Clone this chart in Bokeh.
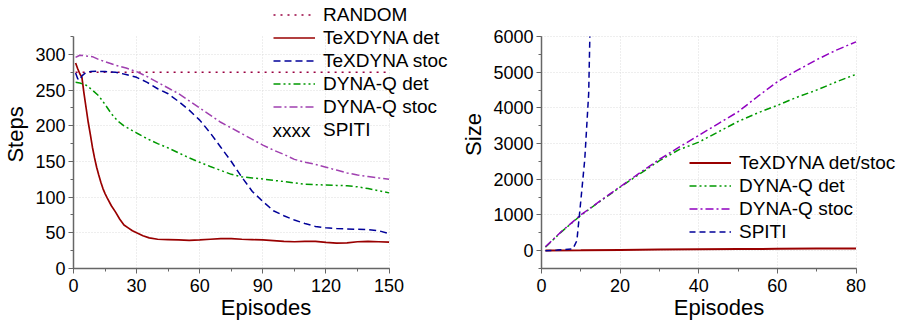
from bokeh.plotting import figure
from bokeh.layouts import row
from bokeh.models import Legend, LegendItem, Label, SingleIntervalTicker, Range1d
from bokeh.embed import file_html
from bokeh.resources import INLINE

FONT = "Liberation Sans"

# ---------------- Left chart: Steps vs Episodes ----------------
random_x = [1, 150]
random_y = [275, 275]

texdyna_det_x = [1, 2, 3, 4, 5, 6, 7, 8, 9, 10, 11, 12, 13, 14, 15, 16, 18, 20, 22, 24, 26, 28, 30, 33, 36,
                 40, 45, 50, 55, 60, 65, 70, 75, 80, 85, 90, 95, 100, 105, 110, 115, 120, 125, 130, 135,
                 140, 145, 150]
texdyna_det_y = [288, 280, 273, 268, 245, 225, 205, 188, 170, 155, 142, 131, 121, 112, 105, 99, 88, 79, 69,
                 61, 57, 53, 50, 46, 43, 41, 40.5, 40, 39.5, 40, 41, 42, 42, 41, 40.5, 40, 39, 38, 37.5, 38,
                 38, 36.5, 35.5, 36, 37.5, 38, 37.5, 37]

texdyna_stoc_x = [1, 2, 3, 4, 6, 8, 11, 15, 20, 25, 30, 35, 40, 45, 50, 55, 60, 65, 70, 75, 80, 85, 90, 95,
                  100, 105, 110, 115, 120, 125, 130, 135, 140, 145, 150]
texdyna_stoc_y = [274, 266, 264, 270, 275, 276, 276.5, 276, 275, 272, 268, 261, 252, 245, 234, 222, 208, 190,
                  170, 150, 128, 108, 94, 81, 74, 68, 63, 59, 57, 56, 55.5, 55, 54.5, 53, 49]

dynaq_det_x = [1, 3, 6, 9, 12, 15, 18, 21, 24, 27, 30, 35, 40, 45, 50, 55, 60, 65, 70, 75, 80, 85, 90, 95,
               100, 105, 110, 115, 120, 125, 130, 135, 140, 145, 150]
dynaq_det_y = [261, 260, 257, 250, 242, 230, 217, 207, 200, 195, 190, 182, 175, 169, 162, 155, 149, 143,
               137.5, 132, 128.5, 127, 125.5, 123.5, 122, 120, 118, 117.5, 117, 116.5, 116, 114.5, 112, 109, 106]

dynaq_stoc_x = [1, 3, 6, 9, 12, 15, 20, 25, 30, 35, 40, 45, 50, 55, 60, 65, 70, 75, 80, 85, 90, 95, 100,
                105, 110, 115, 120, 125, 130, 135, 140, 145, 150]
dynaq_stoc_y = [296, 299, 298, 297, 293, 290, 285, 281, 276, 269, 261, 253, 245, 235, 225, 215, 205, 197,
                189, 181, 173, 166, 160, 153, 149, 146, 142, 138, 134, 131, 129, 127, 125]

# ---------------- Right chart: Size vs Episodes ----------------
tex_size_x = [1, 10, 20, 30, 40, 50, 60, 70, 80]
tex_size_y = [2, 10, 20, 30, 38, 45, 52, 58, 63]

dq_det_size_x = [1, 5, 10, 15, 20, 25, 30, 35, 40, 45, 50, 55, 60, 65, 70, 75, 80]
dq_det_size_y = [100, 520, 990, 1390, 1780, 2150, 2520, 2830, 3040, 3330, 3620, 3860, 4070, 4300, 4500,
                 4730, 4940]

dq_stoc_size_x = [1, 5, 10, 15, 20, 25, 30, 35, 40, 45, 50, 55, 60, 65, 70, 75, 80]
dq_stoc_size_y = [110, 530, 1000, 1400, 1790, 2180, 2560, 2900, 3230, 3560, 3890, 4320, 4730, 5050, 5350,
                  5620, 5850]

spiti_size_x = [1, 4, 8, 9, 10, 11, 12, 12.3]
spiti_size_y = [0, 15, 50, 280, 1400, 2550, 4400, 6000]

RED = "#990000"
BLUE = "#000099"
GREEN = "#009900"
PURPLE_L = "#A040B0"
PURPLE_R = "#9000C0"
RAND = "#990040"


def style(p, xint, yint, xlabel, ylabel, xb, yb):
    for ax, interval, lab, b in ((p.xaxis[0], xint, xlabel, xb), (p.yaxis[0], yint, ylabel, yb)):
        ax.ticker = SingleIntervalTicker(interval=interval, num_minor_ticks=2)
        ax.bounds = b
        ax.axis_label = lab
        ax.axis_label_text_font = FONT
        ax.axis_label_text_font_size = "22px"
        ax.axis_label_text_font_style = "normal"
        ax.axis_label_text_color = "black"
        ax.major_label_text_font = FONT
        ax.major_label_text_font_size = "18px"
        ax.major_label_text_color = "black"
        ax.axis_line_color = "#666666"
        ax.axis_line_width = 1.5
        ax.major_tick_line_color = "#666666"
        ax.minor_tick_line_color = "#666666"
        ax.major_tick_in = 0
        ax.major_tick_out = 5
        ax.minor_tick_in = 0
        ax.minor_tick_out = 3
    p.xaxis.major_label_standoff = 5
    p.xaxis.axis_label_standoff = 0
    p.yaxis.major_label_standoff = 3
    p.yaxis.axis_label_standoff = 4
    for g, b, cb in ((p.xgrid[0], xb, yb), (p.ygrid[0], yb, xb)):
        g.grid_line_color = "#dcdcdc"
        g.grid_line_dash = "1 2"
        g.grid_line_width = 1
        g.bounds = b
        try:
            g.cross_bounds = cb
        except AttributeError:
            pass
    p.outline_line_color = None


def leg(items, vx, vy):
    return Legend(items=items, location=(vx, vy), border_line_color=None, background_fill_alpha=0,
                  padding=0, margin=0, spacing=0, label_height=23, glyph_height=23, glyph_width=42,
                  label_standoff=8, label_text_font=FONT, label_text_font_size="19px",
                  label_text_color="black")


# ---- left figure (frame extended right/up so the legend is not clipped; axes bounded)
p1 = figure(frame_width=385, frame_height=268, min_border_left=60, min_border_right=0,
            min_border_top=0, min_border_bottom=0, x_range=Range1d(0, 183), y_range=Range1d(0, 375.7),
            output_backend="svg", toolbar_location=None)
style(p1, 30, 50, "Episodes", "Steps", (0, 150), (0, 325))

r_rand = p1.line(random_x, random_y, line_color=RAND, line_width=1.5, line_dash="2 5")
r_tdet = p1.line(texdyna_det_x, texdyna_det_y, line_color=RED, line_width=1.7)
r_tsto = p1.line(texdyna_stoc_x, texdyna_stoc_y, line_color=BLUE, line_width=1.5, line_dash="7 4")
r_qdet = p1.line(dynaq_det_x, dynaq_det_y, line_color=GREEN, line_width=1.5, line_dash="7 3 2 3 2 3")
r_qsto = p1.line(dynaq_stoc_x, dynaq_stoc_y, line_color=PURPLE_L, line_width=1.5, line_dash="8 3 2 3")
r_spiti = p1.line([], [], line_alpha=0)

p1.add_layout(leg([
    LegendItem(label="RANDOM", renderers=[r_rand]),
    LegendItem(label="TeXDYNA det", renderers=[r_tdet]),
    LegendItem(label="TeXDYNA stoc", renderers=[r_tsto]),
    LegendItem(label="DYNA-Q det", renderers=[r_qdet]),
    LegendItem(label="DYNA-Q stoc", renderers=[r_qsto]),
    LegendItem(label="SPITI", renderers=[r_spiti]),
], 200, 127))
p1.add_layout(Label(x=199, y=138, x_units="screen", y_units="screen", text="xxxx",
                    text_baseline="middle", text_align="left", text_font=FONT,
                    text_font_size="19px", text_color="black"))

# ---- right figure (frame extended right/up for the legend; axes bounded)
p2 = figure(frame_width=355, frame_height=268, min_border_left=70, min_border_right=0,
            min_border_top=0, min_border_bottom=0, x_range=Range1d(0, 90.3), y_range=Range1d(-500, 7009),
            output_backend="svg", toolbar_location=None)
style(p2, 20, 1000, "Episodes", "Size", (0, 80), (-500, 6000))

s_tex = p2.line(tex_size_x, tex_size_y, line_color=RED, line_width=2)
s_qdet = p2.line(dq_det_size_x, dq_det_size_y, line_color=GREEN, line_width=1.5, line_dash="7 3 2 3 2 3")
s_qsto = p2.line(dq_stoc_size_x, dq_stoc_size_y, line_color=PURPLE_R, line_width=1.5, line_dash="8 3 2 3")
s_spi = p2.line(spiti_size_x, spiti_size_y, line_color=BLUE, line_width=1.5, line_dash="6 4")

p2.add_layout(leg([
    LegendItem(label="TeXDYNA det/stoc", renderers=[s_tex]),
    LegendItem(label="DYNA-Q det", renderers=[s_qdet]),
    LegendItem(label="DYNA-Q stoc", renderers=[s_qsto]),
    LegendItem(label="SPITI", renderers=[s_spi]),
], 148, 25))

layout = row(p1, p2)
open("out.html", "w").write(file_html(layout, INLINE))
